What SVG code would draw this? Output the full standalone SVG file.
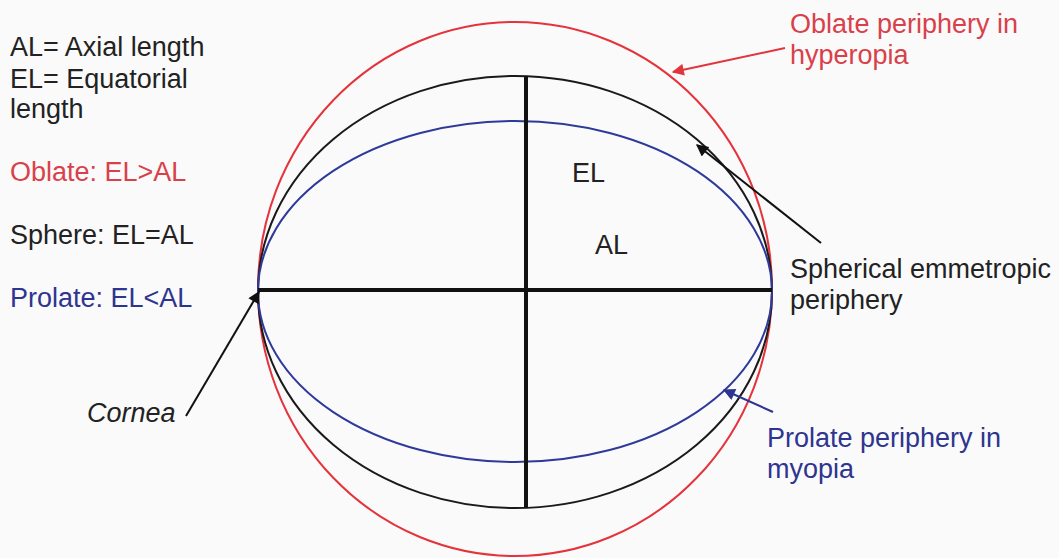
<svg xmlns="http://www.w3.org/2000/svg" width="1059" height="558" viewBox="0 0 1059 558">
<defs>
<style>
text{font-family:"Liberation Sans",Arial,sans-serif;font-size:27px;fill:#222}
.r{fill:#d9414a}
.b{fill:#2e3590}
.curve{fill:none;stroke-width:2}
.axis{stroke:#111;stroke-width:4}
.lead{stroke-width:2;fill:none}
</style>
<marker id="ak" viewBox="0 0 10 10" refX="9" refY="5" markerWidth="14" markerHeight="12" orient="auto" markerUnits="userSpaceOnUse"><path d="M0,0 L10,5 L0,10 z" fill="#111"/></marker>
<marker id="ar" viewBox="0 0 10 10" refX="9" refY="5" markerWidth="14" markerHeight="12" orient="auto" markerUnits="userSpaceOnUse"><path d="M0,0 L10,5 L0,10 z" fill="#e0353d"/></marker>
<marker id="ab" viewBox="0 0 10 10" refX="9" refY="5" markerWidth="14" markerHeight="12" orient="auto" markerUnits="userSpaceOnUse"><path d="M0,0 L10,5 L0,10 z" fill="#2e3590"/></marker>
</defs>
<rect width="1059" height="558" fill="#fafafa"/>
<g id="oblate"><ellipse class="curve" cx="515" cy="289" rx="257" ry="267" stroke="#e5333b"/></g>
<g id="sphere"><ellipse class="curve" cx="515" cy="292" rx="257" ry="216" stroke="#1a1a1a"/></g>
<g id="prolate"><ellipse class="curve" cx="515" cy="291.5" rx="257" ry="170.5" stroke="#2e3a9a"/></g>
<g id="axes">
<line class="axis" x1="258" y1="290" x2="772" y2="290"/>
<line class="axis" x1="526" y1="76" x2="526" y2="508"/>
</g>
<g id="legend">
<text x="10" y="56">AL= Axial length</text>
<text x="10" y="88">EL= Equatorial</text>
<text x="10" y="118">length</text>
<text class="r" x="10" y="181">Oblate: EL&gt;AL</text>
<text x="10" y="244">Sphere: EL=AL</text>
<text class="b" x="10" y="307">Prolate: EL&lt;AL</text>
</g>
<g id="labels">
<text x="572" y="182">EL</text>
<text x="595" y="254">AL</text>
<text x="87" y="422" font-style="italic">Cornea</text>
<text class="r" x="790" y="33">Oblate periphery in</text>
<text class="r" x="790" y="64">hyperopia</text>
<text x="790" y="278">Spherical emmetropic</text>
<text x="790" y="309">periphery</text>
<text class="b" x="767" y="447">Prolate periphery in</text>
<text class="b" x="767" y="478">myopia</text>
</g>
<g id="connectors">
<line class="lead" x1="785" y1="48" x2="673" y2="72" stroke="#e0353d" marker-end="url(#ar)"/>
<line class="lead" x1="821" y1="243" x2="697" y2="145" stroke="#111" marker-end="url(#ak)"/>
<line class="lead" x1="773" y1="412" x2="724" y2="390" stroke="#2e3590" marker-end="url(#ab)"/>
<line class="lead" x1="186" y1="416" x2="259" y2="292" stroke="#111" marker-end="url(#ak)"/>
</g>
</svg>
